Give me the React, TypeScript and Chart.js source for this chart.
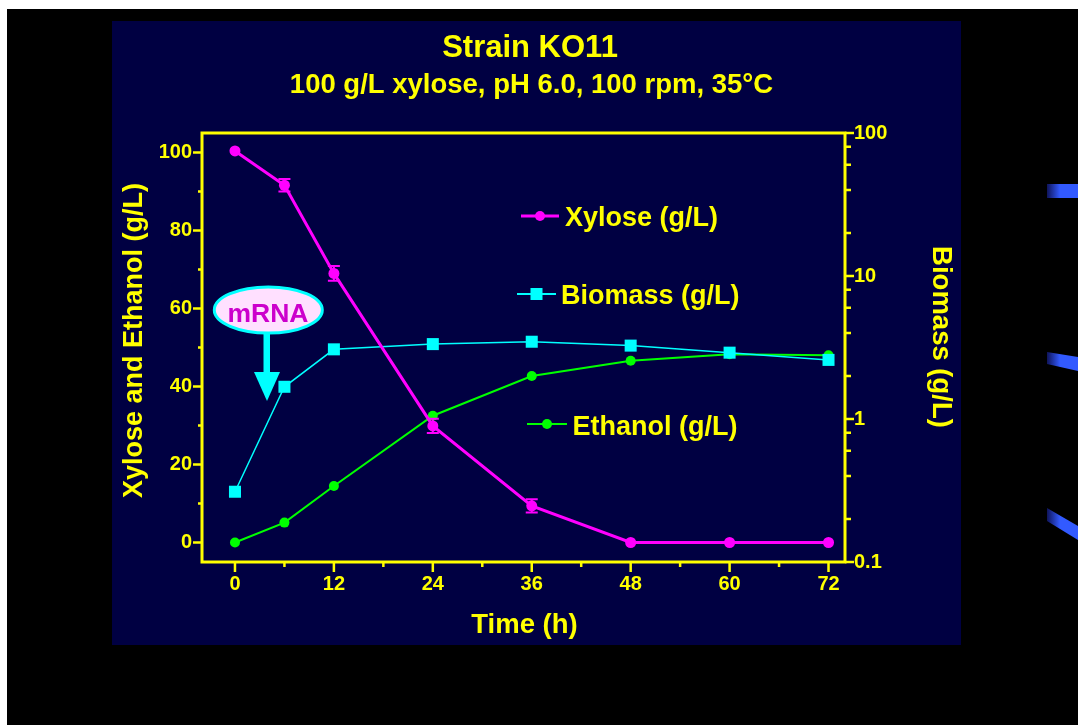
import React, { useEffect, useRef } from "react";
import { Chart, registerables } from "chart.js";

Chart.register(...registerables);

// ---- data ----
const timeH = [0, 6, 12, 24, 36, 48, 60, 72];
const xyloseGL = [100.4, 91.6, 69.0, 29.9, 9.4, 0, 0, 0];
const xyloseErr = [0, 1.6, 1.9, 1.8, 1.7, 0, 0, 0];
const ethanolGL = [0, 5.1, 14.5, 32.5, 42.7, 46.6, 48.3, 48.0];
const biomassGL = [0.31, 1.68, 3.07, 3.34, 3.47, 3.26, 2.91, 2.59];

const xTicks = [0, 12, 24, 36, 48, 60, 72];
const xMinorTicks = [6, 18, 30, 42, 54, 66];
const yTicks = [0, 20, 40, 60, 80, 100];
const yMinorTicks = [10, 30, 50, 70, 90];
const y2Ticks = [0.1, 1, 10, 100];
const y2MinorTicks = [0.2, 0.4, 0.6, 0.8, 2, 4, 6, 8, 20, 40, 60, 80];

const titleText = "Strain KO11";
const subtitleText = "100 g/L xylose, pH 6.0, 100 rpm, 35\u00B0C";
const xTitle = "Time (h)";
const yTitle = "Xylose and Ethanol (g/L)";
const y2Title = "Biomass (g/L)";
const seriesLabels = ["Xylose (g/L)", "Biomass (g/L)", "Ethanol (g/L)"];
const noteText = "mRNA";

// ---- styles ----
const FONT = "'Liberation Sans', Arial, Helvetica, sans-serif";
const YELLOW = "#FFFF00";
const MAGENTA = "#FF00FF";
const CYAN = "#00FFFF";
const GREEN = "#00FF00";
const NAVY = "rgb(0,0,66)";

const W = 1078;
const H = 725;
const AREA = { left: 202, right: 845, top: 133, bottom: 562 };

const decorPlugin = {
  id: "decor",
  beforeDraw(chart: any) {
    const { ctx } = chart;
    ctx.save();
    ctx.fillStyle = "#ffffff";
    ctx.fillRect(0, 0, W, H);
    ctx.fillStyle = "#000000";
    ctx.fillRect(7, 9, W - 7, H - 9);
    ctx.fillStyle = NAVY;
    ctx.fillRect(112, 21, 849, 624);

    // blue slide decorations at right edge
    const shapes = [
      [[1047, 184], [1078, 184], [1078, 198], [1047, 198]],
      [[1047, 352], [1078, 357], [1078, 371], [1047, 364]],
      [[1047, 508], [1078, 526], [1078, 540], [1047, 521]],
    ];
    const g = ctx.createLinearGradient(1047, 0, 1060, 0);
    g.addColorStop(0, "rgb(15,20,90)");
    g.addColorStop(1, "rgb(50,90,255)");
    ctx.fillStyle = g;
    for (const s of shapes) {
      ctx.beginPath();
      ctx.moveTo(s[0][0], s[0][1]);
      for (let i = 1; i < s.length; i++) ctx.lineTo(s[i][0], s[i][1]);
      ctx.closePath();
      ctx.fill();
    }
    ctx.restore();
  },
  afterDatasetsDraw(chart: any) {
    const { ctx } = chart;
    const xs = chart.scales.x;
    const ys = chart.scales.y;
    ctx.save();
    ctx.strokeStyle = MAGENTA;
    ctx.lineWidth = 2;
    timeH.forEach((t, i) => {
      const e = xyloseErr[i];
      if (!e) return;
      const px = xs.getPixelForValue(t);
      const top = ys.getPixelForValue(xyloseGL[i] + e);
      const bot = ys.getPixelForValue(xyloseGL[i] - e);
      ctx.beginPath();
      ctx.moveTo(px, top);
      ctx.lineTo(px, bot);
      ctx.moveTo(px - 6, top);
      ctx.lineTo(px + 6, top);
      ctx.moveTo(px - 6, bot);
      ctx.lineTo(px + 6, bot);
      ctx.stroke();
    });
    ctx.restore();
  },
  afterDraw(chart: any) {
    const { ctx, chartArea } = chart;
    const xs = chart.scales.x;
    const ys = chart.scales.y;
    const y2 = chart.scales.y2;
    ctx.save();

    // frame
    ctx.strokeStyle = YELLOW;
    ctx.lineWidth = 3;
    ctx.strokeRect(
      chartArea.left,
      chartArea.top,
      chartArea.right - chartArea.left,
      chartArea.bottom - chartArea.top
    );

    // tick marks
    ctx.lineWidth = 2.5;
    ctx.beginPath();
    xTicks.forEach((v) => {
      const p = xs.getPixelForValue(v);
      ctx.moveTo(p, chartArea.bottom);
      ctx.lineTo(p, chartArea.bottom + 10);
    });
    xMinorTicks.forEach((v) => {
      const p = xs.getPixelForValue(v);
      ctx.moveTo(p, chartArea.bottom);
      ctx.lineTo(p, chartArea.bottom + 5);
    });
    yTicks.forEach((v) => {
      const p = ys.getPixelForValue(v);
      ctx.moveTo(chartArea.left, p);
      ctx.lineTo(chartArea.left - 9, p);
    });
    yMinorTicks.forEach((v) => {
      const p = ys.getPixelForValue(v);
      ctx.moveTo(chartArea.left, p);
      ctx.lineTo(chartArea.left - 4, p);
    });
    y2Ticks.forEach((v) => {
      const p = y2.getPixelForValue(v);
      ctx.moveTo(chartArea.right, p);
      ctx.lineTo(chartArea.right + 9, p);
    });
    y2MinorTicks.forEach((v) => {
      const p = y2.getPixelForValue(v);
      ctx.moveTo(chartArea.right, p);
      ctx.lineTo(chartArea.right + 6, p);
    });
    ctx.stroke();

    // titles
    ctx.fillStyle = YELLOW;
    ctx.textAlign = "center";
    ctx.textBaseline = "alphabetic";
    ctx.font = `bold 31px ${FONT}`;
    ctx.fillText(titleText, 530, 57);
    ctx.font = `bold 27.5px ${FONT}`;
    ctx.fillText(subtitleText, 531.5, 93);
    ctx.fillText(xTitle, 524.5, 633);

    ctx.font = `bold 27px ${FONT}`;
    ctx.save();
    ctx.translate(141.5, 340.5);
    ctx.rotate(-Math.PI / 2);
    ctx.fillText(yTitle, 0, 0);
    ctx.restore();

    ctx.font = `bold 27.5px ${FONT}`;
    ctx.save();
    ctx.translate(933, 337);
    ctx.rotate(Math.PI / 2);
    ctx.fillText(y2Title, 0, 0);
    ctx.restore();

    // legend (placed inside the plot)
    const legend = [
      { x0: 521, x1: 559, y: 216, tx: 565, base: 226, color: MAGENTA, lw: 3, shape: "circle", r: 5 },
      { x0: 517, x1: 556, y: 294, tx: 561, base: 303.5, color: CYAN, lw: 2, shape: "rect", r: 6 },
      { x0: 527, x1: 567, y: 424, tx: 572.5, base: 435, color: GREEN, lw: 2, shape: "circle", r: 5 },
    ];
    ctx.font = `bold 27px ${FONT}`;
    ctx.textAlign = "left";
    legend.forEach((l, i) => {
      ctx.strokeStyle = l.color;
      ctx.fillStyle = l.color;
      ctx.lineWidth = l.lw;
      ctx.beginPath();
      ctx.moveTo(l.x0, l.y);
      ctx.lineTo(l.x1, l.y);
      ctx.stroke();
      const cx = (l.x0 + l.x1) / 2;
      ctx.beginPath();
      if (l.shape === "circle") ctx.arc(cx, l.y, l.r, 0, Math.PI * 2);
      else ctx.rect(cx - l.r, l.y - l.r, l.r * 2, l.r * 2);
      ctx.fill();
      ctx.fillStyle = YELLOW;
      ctx.fillText(seriesLabels[i], l.tx, l.base);
    });

    // mRNA annotation
    ctx.beginPath();
    ctx.ellipse(268.3, 310, 54, 23, 0, 0, Math.PI * 2);
    ctx.fillStyle = "#FFE0FF";
    ctx.fill();
    ctx.strokeStyle = CYAN;
    ctx.lineWidth = 3;
    ctx.stroke();
    ctx.fillStyle = "#CC00CC";
    ctx.textAlign = "center";
    ctx.font = `bold 26.5px ${FONT}`;
    ctx.fillText(noteText, 268, 322);

    ctx.fillStyle = CYAN;
    ctx.fillRect(263.5, 333, 6.5, 40);
    ctx.beginPath();
    ctx.moveTo(254, 372);
    ctx.lineTo(280, 372);
    ctx.lineTo(267, 401);
    ctx.closePath();
    ctx.fill();

    ctx.restore();
  },
};

const tickFont = { family: FONT, size: 20, weight: "bold" as const };

export default function App() {
  const ref = useRef<HTMLCanvasElement | null>(null);

  useEffect(() => {
    if (!ref.current) return;
    const chart = new Chart(ref.current, {
      type: "line",
      data: {
        datasets: [
          {
            label: seriesLabels[0],
            data: timeH.map((t, i) => ({ x: t, y: xyloseGL[i] })),
            yAxisID: "y",
            borderColor: MAGENTA,
            backgroundColor: MAGENTA,
            borderWidth: 3,
            pointStyle: "circle",
            pointRadius: 5.5,
            pointBorderWidth: 0,
            tension: 0,
          },
          {
            label: seriesLabels[1],
            data: timeH.map((t, i) => ({ x: t, y: biomassGL[i] })),
            yAxisID: "y2",
            borderColor: CYAN,
            backgroundColor: CYAN,
            borderWidth: 1.5,
            pointStyle: "rect",
            pointRadius: 8.5,
            pointBorderWidth: 0,
            tension: 0,
          },
          {
            label: seriesLabels[2],
            data: timeH.map((t, i) => ({ x: t, y: ethanolGL[i] })),
            yAxisID: "y",
            borderColor: GREEN,
            backgroundColor: GREEN,
            borderWidth: 2,
            pointStyle: "circle",
            pointRadius: 5,
            pointBorderWidth: 0,
            tension: 0,
          },
        ],
      },
      options: {
        animation: false,
        responsive: true,
        maintainAspectRatio: false,
        events: [],
        layout: { padding: { top: AREA.top, left: 0, right: 0, bottom: 0 } },
        plugins: {
          legend: { display: false },
          title: { display: false },
          tooltip: { enabled: false },
        },
        scales: {
          x: {
            type: "linear",
            min: -4,
            max: 74,
            grid: { display: false, drawTicks: false },
            border: { display: false },
            ticks: {
              color: YELLOW,
              font: tickFont,
              padding: 10,
              autoSkip: false,
              maxRotation: 0,
            },
            afterBuildTicks: (s: any) => {
              s.ticks = xTicks.map((v) => ({ value: v }));
            },
            afterFit: (s: any) => {
              s.height = H - AREA.bottom;
            },
          },
          y: {
            type: "linear",
            position: "left",
            min: -5,
            max: 105,
            grid: { display: false, drawTicks: false },
            border: { display: false },
            ticks: { color: YELLOW, font: tickFont, padding: 10, autoSkip: false },
            afterBuildTicks: (s: any) => {
              s.ticks = yTicks.map((v) => ({ value: v }));
            },
            afterFit: (s: any) => {
              s.width = AREA.left;
            },
          },
          y2: {
            type: "logarithmic",
            position: "right",
            min: 0.1,
            max: 100,
            grid: { display: false, drawTicks: false },
            border: { display: false },
            ticks: {
              color: YELLOW,
              font: tickFont,
              padding: 9,
              autoSkip: false,
              callback: (v: any) => String(v),
            },
            afterBuildTicks: (s: any) => {
              s.ticks = y2Ticks.map((v) => ({ value: v }));
            },
            afterFit: (s: any) => {
              s.width = W - AREA.right;
            },
          },
        },
      },
      plugins: [decorPlugin],
    });
    return () => chart.destroy();
  }, []);

  return (
    <div
      style={{
        position: "fixed",
        left: 0,
        top: 0,
        width: W,
        height: H,
        overflow: "hidden",
      }}
    >
      <canvas ref={ref} />
    </div>
  );
}
